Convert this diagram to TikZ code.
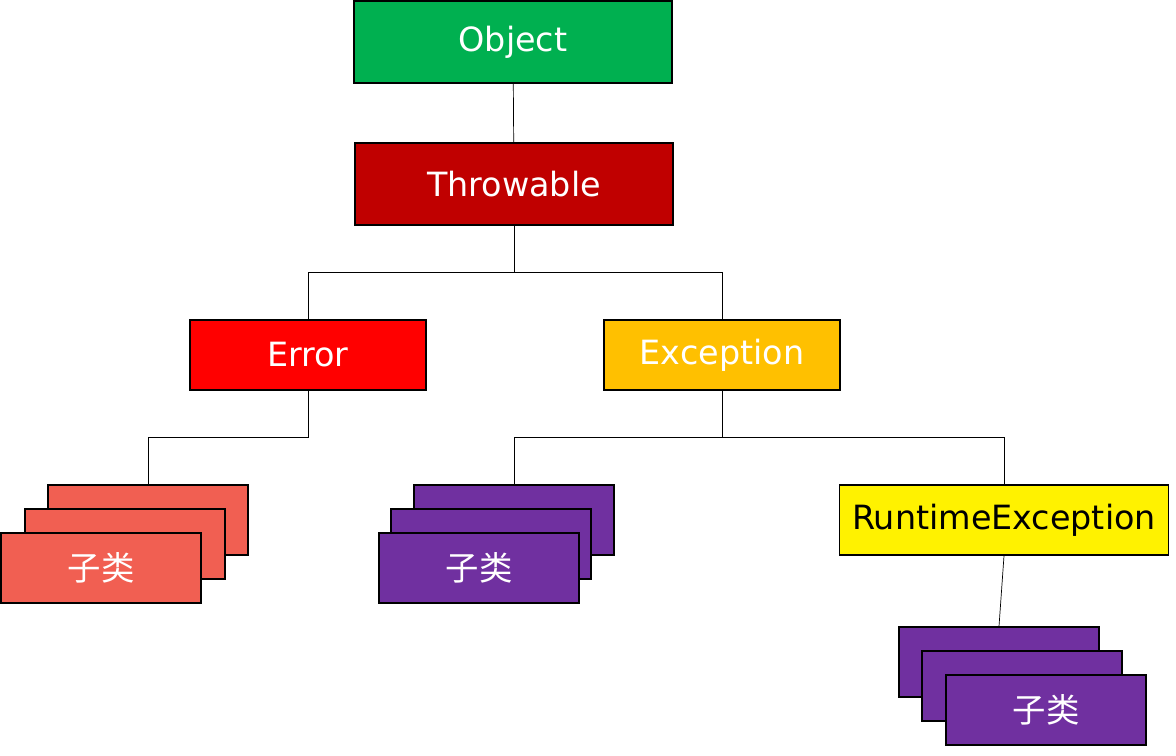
\documentclass[tikz,border=0pt]{standalone}
\usepackage{fontspec}
\setmainfont{DejaVu Sans}
\newfontfamily\cjk{Noto Sans CJK SC}
\definecolor{objgreen}{HTML}{00B050}
\definecolor{thrred}{HTML}{C00000}
\definecolor{errred}{HTML}{FF0000}
\definecolor{excorange}{HTML}{FFC000}
\definecolor{subsalmon}{HTML}{F15F52}
\definecolor{subpurple}{HTML}{7030A0}
\begin{document}
\begin{tikzpicture}[x=0.02cm, y=-0.02cm]
    \tikzset{
        box/.style={draw=black, thick, minimum width=6.36cm, minimum height=1.64cm,
            inner sep=0pt, font=\fontsize{19}{22}\selectfont, text=white},
        mid/.style={box, minimum width=4.72cm, minimum height=1.4cm},
        sub/.style={box, minimum width=4cm, minimum height=1.4cm, font=\cjk\fontsize{19}{22}\selectfont},
        link/.style={draw=black, thin}
    }
    \useasboundingbox (0,0) rectangle (1176,755);

    \node [box, fill=objgreen] (obj) at (513,42) {Object};
    \node [box, fill=thrred] (thr) at (514,184) {Throwable};
    \node [mid, fill=errred] (err) at (308,355) {Error};
    \node [mid, fill=excorange] (exc) at (722,355) {Exception};
    \node [mid, fill=yellow, text=black, minimum width=6.58cm] (rte) at (1004,520) {RuntimeException};

    % error subclasses
    \node [sub, fill=subsalmon] (errA) at (148,520) {};
    \node [sub, fill=subsalmon] (errB) at (125,544) {};
    \node [sub, fill=subsalmon] (errC) at (101,568) {子类};
    % exception subclasses
    \node [sub, fill=subpurple] (excA) at (514,520) {};
    \node [sub, fill=subpurple] (excB) at (491,544) {};
    \node [sub, fill=subpurple] (excC) at (479,568) {子类};
    % runtime subclasses
    \node [sub, fill=subpurple] (rteA) at (999,662) {};
    \node [sub, fill=subpurple] (rteB) at (1022,686) {};
    \node [sub, fill=subpurple] (rteC) at (1046,710) {子类};

    \draw [link] (obj) -- (thr);
    \draw [link] (thr.south) -- ++(0,47) -| (err.north);
    \draw [link] (thr.south) -- ++(0,47) -| (exc.north);
    \draw [link] (err.south) -- ++(0,47) -| (errA.north);
    \draw [link] (exc.south) -- ++(0,47) -| (excA.north);
    \draw [link] (exc.south) -- ++(0,47) -| (rte.north);
    \draw [link] (rte.south) -- (rteA.north);
\end{tikzpicture}
\end{document}
